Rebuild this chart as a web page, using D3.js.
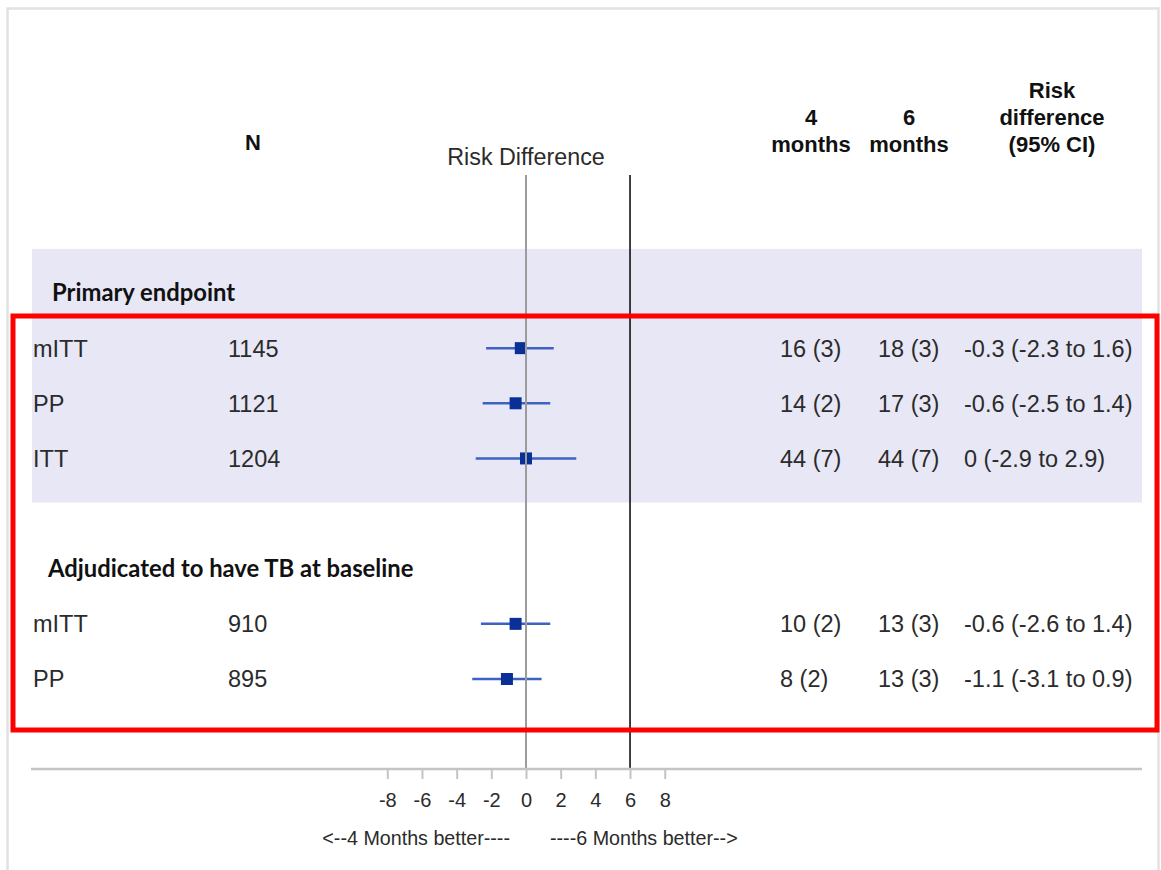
<!DOCTYPE html>
<html>
<head>
<meta charset="utf-8">
<script src="https://cdn.jsdelivr.net/npm/d3@7"></script>
<style>
  body { margin: 0; background: #fff; }
  svg { display: block; }
  .cell { font-family: "Liberation Sans", Arial, sans-serif; font-size: 23.5px; fill: #2b2b2b; }
  .hdr { font-family: "Liberation Sans", Arial, sans-serif; font-size: 22px; font-weight: bold; fill: #111; }
  .group { font-family: Lato, "Open Sans", sans-serif; font-size: 23.8px; font-weight: bold; fill: #111; }
</style>
</head>
<body>
<svg id="chart" width="1161" height="870"></svg>
<script>
// rows top to bottom; group headers have no estimate
var rowLabels = ["Primary endpoint", "mITT", "PP", "ITT", "", "Adjudicated to have TB at baseline", "mITT", "PP"];
var rowKinds = ["group", "row", "row", "row", "gap", "group", "row", "row"];
var nValues = ["", "1145", "1121", "1204", "", "", "910", "895"];
var fourMonths = ["", "16 (3)", "14 (2)", "44 (7)", "", "", "10 (2)", "8 (2)"];
var sixMonths = ["", "18 (3)", "17 (3)", "44 (7)", "", "", "13 (3)", "13 (3)"];
var estimate = [null, -0.3, -0.6, 0, null, null, -0.6, -1.1];
var lower = [null, -2.3, -2.5, -2.9, null, null, -2.6, -3.1];
var upper = [null, 1.6, 1.4, 2.9, null, null, 1.4, 0.9];
var tickValues = [-8, -6, -4, -2, 0, 2, 4, 6, 8];
var refLines = [0, 6];

var svg = d3.select("#chart");

var x = d3.scaleLinear().domain([-8, 8]).range([387.3, 664.7]);
var y = d3.scalePoint().domain(d3.range(rowLabels.length)).range([293, 679]);

var axisY = 769,
    plotLeft = 31,
    plotRight = 1142,
    lineTop = 175;

var rows = rowLabels.map(function (label, i) {
    return {
        i: i, label: label, kind: rowKinds[i], n: nValues[i],
        m4: fourMonths[i], m6: sixMonths[i],
        est: estimate[i], lo: lower[i], hi: upper[i]
    };
});

// outer frame
svg.append("rect")
    .attr("x", 7.5).attr("y", 8.5)
    .attr("width", 1151).attr("height", 900)
    .attr("fill", "none")
    .attr("stroke", "#e2e2e2")
    .attr("stroke-width", 2.5);

// shaded band behind the primary endpoint block
var step = y.step();
svg.append("rect")
    .attr("x", plotLeft + 1)
    .attr("y", y(0) - step * 0.8)
    .attr("width", plotRight - plotLeft - 1)
    .attr("height", y(3) - y(0) + step * 1.6)
    .attr("fill", "#e7e7f6");

// column headers
svg.append("text").attr("class", "hdr")
    .attr("x", 253).attr("y", 150)
    .attr("text-anchor", "middle").text("N");

svg.append("text").attr("class", "cell")
    .attr("x", x(0)).attr("y", 165)
    .attr("text-anchor", "middle")
    .style("font-size", "23.3px")
    .text("Risk Difference");

var headers = [
    { x: 811, lines: ["4", "months"] },
    { x: 909, lines: ["6", "months"] },
    { x: 1052, lines: ["Risk", "difference", "(95% CI)"] }
];
headers.forEach(function (h) {
    var t = svg.append("text").attr("class", "hdr").attr("text-anchor", "middle");
    var first = 152 - (h.lines.length - 1) * 27;
    h.lines.forEach(function (s, k) {
        t.append("tspan").attr("x", h.x).attr("y", first + k * 27).text(s);
    });
});

// rows
var g = svg.append("g");
rows.forEach(function (r) {
    if (r.kind === "group") {
        g.append("text").attr("class", "group")
            .attr("x", r.i === 0 ? 52 : 48)
            .attr("y", y(r.i)).attr("dy", "0.35em")
            .text(r.label);
    } else if (r.kind === "row") {
        var cols = [[33, r.label], [228, r.n], [780, r.m4], [878, r.m6],
            [964, r.est + " (" + r.lo + " to " + r.hi + ")"]];
        cols.forEach(function (c) {
            g.append("text").attr("class", "cell")
                .attr("x", c[0]).attr("y", y(r.i)).attr("dy", "0.36em")
                .text(c[1]);
        });
    }
});

// confidence intervals and estimates
var est = rows.filter(function (r) { return r.est !== null; });
var marks = svg.append("g");
marks.selectAll("line.ci")
    .data(est).enter().append("line")
    .attr("class", "ci")
    .attr("x1", function (d) { return x(d.lo); })
    .attr("x2", function (d) { return x(d.hi); })
    .attr("y1", function (d) { return y(d.i); })
    .attr("y2", function (d) { return y(d.i); })
    .attr("stroke", "#3d62c2")
    .attr("stroke-width", 2.5);

var box = 12;
marks.selectAll("rect.est")
    .data(est).enter().append("rect")
    .attr("class", "est")
    .attr("x", function (d) { return x(d.est) - box / 2; })
    .attr("y", function (d) { return y(d.i) - box / 2; })
    .attr("width", box).attr("height", box)
    .attr("fill", "#0a2f96");

// reference lines drawn over the marks
svg.selectAll("line.ref")
    .data(refLines).enter().append("line")
    .attr("class", "ref")
    .attr("x1", function (d) { return x(d); })
    .attr("x2", function (d) { return x(d); })
    .attr("y1", lineTop).attr("y2", axisY)
    .attr("stroke", function (d) { return d === 0 ? "#9c9c9c" : "#111"; })
    .attr("stroke-width", function (d) { return d === 0 ? 2 : 1.6; });

// axis
svg.append("line")
    .attr("x1", plotLeft).attr("x2", plotRight)
    .attr("y1", axisY).attr("y2", axisY)
    .attr("stroke", "#c2c4c6").attr("stroke-width", 2.5);

var axis = svg.append("g")
    .attr("transform", "translate(0," + axisY + ")")
    .call(d3.axisBottom(x).tickValues(tickValues).tickFormat(String)
        .tickSize(10).tickPadding(14));
axis.select(".domain").remove();
axis.selectAll(".tick line").attr("stroke", "#c2c4c6").attr("stroke-width", 2);
axis.selectAll(".tick text")
    .attr("fill", "#2b2b2b")
    .style("font-family", "'Liberation Sans', Arial, sans-serif")
    .style("font-size", "20px");

svg.append("text").attr("class", "cell")
    .attr("x", 510).attr("y", 845).attr("text-anchor", "end")
    .style("font-size", "19.7px")
    .text("<--4 Months better----");
svg.append("text").attr("class", "cell")
    .attr("x", 550).attr("y", 845)
    .style("font-size", "19.7px")
    .text("----6 Months better-->");

// red highlight box
svg.append("rect")
    .attr("x", 13).attr("y", 316)
    .attr("width", 1144).attr("height", 414)
    .attr("fill", "none")
    .attr("stroke", "#ff0000")
    .attr("stroke-width", 5);
</script>
</body>
</html>
